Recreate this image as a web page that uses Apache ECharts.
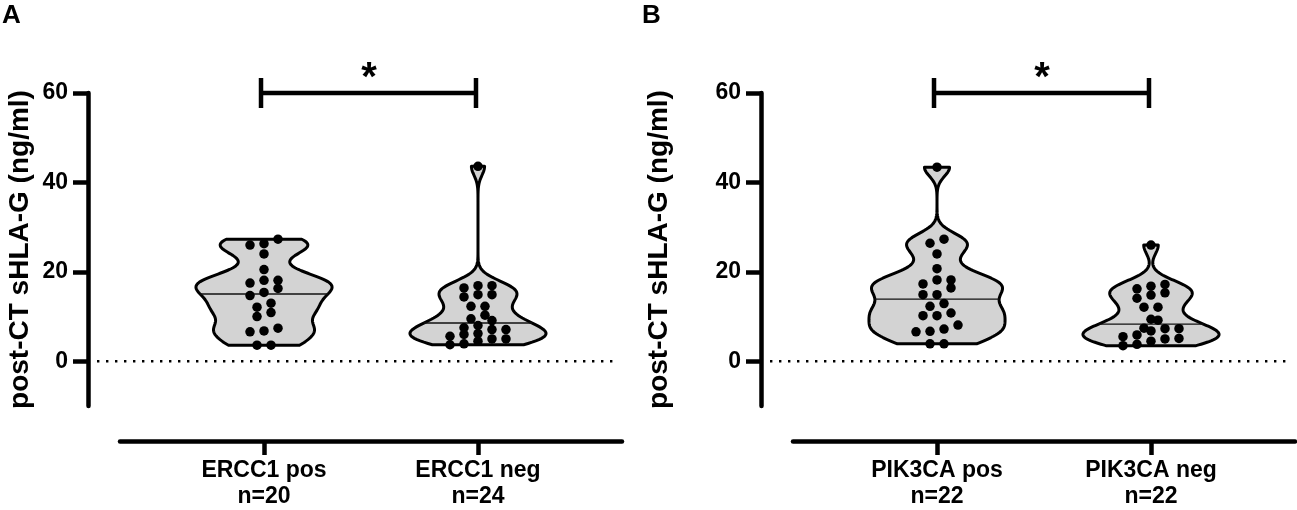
<!DOCTYPE html>
<html>
<head>
<meta charset="utf-8">
<script src="https://cdn.jsdelivr.net/npm/echarts@6/dist/echarts.min.js"></script>
<style>
  html, body { margin: 0; padding: 0; background: #fff; }
  #chart { width: 1297px; height: 510px; }
</style>
</head>
<body>
<div id="chart"></div>
<script>
// values (ng/ml)
const ercc1Pos = [27.3, 26.3, 26.0, 24.0, 20.5, 18.1, 18.1, 17.5, 16.3, 15.4, 14.7, 13.0, 12.1, 10.9, 10.0, 7.4, 6.8, 6.6, 3.6, 3.6];
const ercc1Neg = [43.6, 16.9, 16.4, 16.9, 14.9, 14.4, 14.9, 12.3, 12.3, 10.3, 9.1, 9.5, 7.1, 8.0, 7.1, 7.5, 5.0, 6.2, 5.0, 5.6, 6.0, 3.9, 4.5, 3.7];
const pik3caPos = [43.4, 27.3, 26.4, 24.0, 20.7, 18.2, 17.3, 18.2, 16.4, 14.9, 14.9, 12.9, 12.3, 10.2, 10.8, 10.2, 8.1, 7.2, 6.6, 6.7, 3.9, 3.9];
const pik3caNeg = [26.0, 16.8, 16.2, 17.2, 15.3, 14.1, 14.8, 12.1, 12.1, 9.4, 9.2, 7.3, 6.8, 7.3, 7.4, 5.9, 5.1, 4.5, 5.0, 5.5, 3.8, 3.5];

const labelsA = ['ERCC1 pos', 'ERCC1 neg'];
const labelsB = ['PIK3CA pos', 'PIK3CA neg'];
const yTicks = [0, 20, 40, 60];
const yName = 'post-CT sHLA-G (ng/ml)';
const signif = '*';

const FONT = 'Liberation Sans, Arial, sans-serif';
const X_MIN = -0.673, X_MAX = 1.673;
const BW = 2.0;        // kde smoothing
const HALF_W = 0.318;  // widest half-width of a violin, x units
const BIN = 1.8;       // dot row height, y units
const STEP = 0.0654;   // dot column spacing, x units

function violin(vals) {
  const lo = Math.min(...vals), hi = Math.max(...vals);
  const pts = [];
  let top = 0;
  for (let k = 0; k <= 140; k++) {
    const y = lo + (hi - lo) * k / 140;
    let d = 0;
    vals.forEach(v => { const z = (y - v) / BW; d += Math.exp(-0.5 * z * z); });
    pts.push([y, d]);
    top = Math.max(top, d);
  }
  pts.forEach(p => { p[1] = p[1] / top * HALF_W; });
  const s = [...vals].sort((a, b) => a - b);
  const m = s.length % 2 ? s[(s.length - 1) / 2] : (s[s.length / 2 - 1] + s[s.length / 2]) / 2;
  return { pts, median: m };
}

function widthAt(shape, y) {
  const p = shape.pts;
  for (let i = 1; i < p.length; i++) {
    if (p[i][0] >= y) {
      const t = (y - p[i - 1][0]) / (p[i][0] - p[i - 1][0]);
      return p[i - 1][1] + t * (p[i][1] - p[i - 1][1]);
    }
  }
  return p[p.length - 1][1];
}

function swarm(vals, cat) {
  const s = [...vals].sort((a, b) => a - b);
  const rows = [];
  let row = [];
  s.forEach(v => {
    if (row.length && v - row[0] > BIN) { rows.push(row); row = []; }
    row.push(v);
  });
  if (row.length) rows.push(row);
  const out = [];
  rows.forEach(r => r.forEach((v, j) => out.push([cat + (j - (r.length - 1) / 2) * STEP, v])));
  return out;
}

function panelSeries(idx, groups) {
  const shapes = groups.map(violin);
  const ax = { xAxisIndex: idx, yAxisIndex: idx };
  return [
    Object.assign({
      type: 'custom', silent: true, clip: false, z: 1,
      data: [[0]],
      renderItem: (params, api) => {
        const a = api.coord([X_MIN, 0]);
        const b = api.coord([X_MAX, 0]);
        return {
          type: 'line',
          shape: { x1: a[0] - 23, y1: a[1], x2: b[0] - 4, y2: b[1] },
          style: { stroke: '#000', lineWidth: 2.6, lineDash: [2.4, 6.6] }
        };
      }
    }, ax),
    Object.assign({
      type: 'custom', silent: true, clip: false, z: 2,
      data: shapes.map((s, i) => [i, s.median]),
      renderItem: (params, api) => {
        const sh = shapes[params.dataIndex];
        const cx = api.value(0);
        const left = sh.pts.map(p => api.coord([cx - p[1], p[0]]));
        const right = sh.pts.slice().reverse().map(p => api.coord([cx + p[1], p[0]]));
        const mw = widthAt(sh, sh.median);
        const m1 = api.coord([cx - mw, sh.median]);
        const m2 = api.coord([cx + mw, sh.median]);
        return {
          type: 'group',
          children: [
            { type: 'polygon', shape: { points: left.concat(right) },
              style: { fill: '#d3d3d3', stroke: '#000', lineWidth: 3, lineJoin: 'round' } },
            { type: 'line', shape: { x1: m1[0], y1: m1[1], x2: m2[0], y2: m2[1] },
              style: { stroke: '#111', lineWidth: 1.4 } }
          ]
        };
      }
    }, ax),
    Object.assign({
      type: 'scatter', silent: true, z: 3,
      symbol: 'circle', symbolSize: 9.5,
      itemStyle: { color: '#000', opacity: 1 },
      data: swarm(groups[0], 0).concat(swarm(groups[1], 1))
    }, ax),
    Object.assign({
      type: 'custom', silent: true, clip: false, z: 4,
      data: [[0, 1, yTicks[yTicks.length - 1]]],
      renderItem: (params, api) => {
        const a = api.coord([api.value(0), api.value(2)]);
        const b = api.coord([api.value(1), api.value(2)]);
        const st = { stroke: '#000', lineWidth: 4.5 };
        return {
          type: 'group',
          children: [
            { type: 'line', shape: { x1: a[0] - 3, y1: a[1], x2: b[0] - 2, y2: b[1] }, style: st },
            { type: 'line', shape: { x1: a[0] - 3, y1: a[1] - 15, x2: a[0] - 3, y2: a[1] + 15 }, style: st },
            { type: 'line', shape: { x1: b[0] - 2, y1: b[1] - 15, x2: b[0] - 2, y2: b[1] + 15 }, style: st },
            { type: 'text', x: (a[0] + b[0]) / 2 - 2, y: a[1] - 14,
              style: { text: signif, fill: '#000', font: 'bold 40px ' + FONT, align: 'center', verticalAlign: 'middle' } }
          ]
        };
      }
    }, ax)
  ];
}

function xAxis(idx, labels, groups) {
  return {
    type: 'value', gridIndex: idx, min: X_MIN, max: X_MAX, offset: 35,
    splitLine: { show: false },
    axisLine: { onZero: false, lineStyle: { color: '#000', width: 4.5 } },
    axisTick: { customValues: [0, 1], length: 14, lineStyle: { color: '#000', width: 4.5 } },
    axisLabel: {
      customValues: [0, 1], margin: 17, color: '#000',
      fontFamily: FONT, fontWeight: 'bold', fontSize: 23, lineHeight: 26,
      formatter: v => { const i = Math.round(v); return labels[i] + '\nn=' + groups[i].length; }
    }
  };
}

function yAxis(idx, gap) {
  return {
    type: 'value', gridIndex: idx, min: -10, max: 60, offset: 32,
    name: yName, nameLocation: 'middle', nameGap: gap,
    nameTextStyle: { fontFamily: FONT, fontWeight: 'bold', fontSize: 28, color: '#000' },
    splitLine: { show: false },
    axisLine: { show: true, onZero: false, lineStyle: { color: '#000', width: 4.5 } },
    axisTick: { show: true, customValues: yTicks, length: 15, lineStyle: { color: '#000', width: 4.5 } },
    axisLabel: { customValues: yTicks, margin: 20, color: '#000', fontFamily: FONT, fontWeight: 'bold', fontSize: 23 }
  };
}

const chart = echarts.init(document.getElementById('chart'), null, { renderer: 'canvas' });
chart.setOption({
  animation: false,
  backgroundColor: '#fff',
  title: [
    { text: 'A', left: 2, top: 3, padding: 0, textStyle: { fontFamily: FONT, fontWeight: 'bold', fontSize: 26, color: '#000' } },
    { text: 'B', left: 642, top: 3, padding: 0, textStyle: { fontFamily: FONT, fontWeight: 'bold', fontSize: 26, color: '#000' } }
  ],
  grid: [
    { left: 120, width: 502, top: 93, height: 314 },
    { left: 793, width: 502, top: 93, height: 314 }
  ],
  xAxis: [xAxis(0, labelsA, [ercc1Pos, ercc1Neg]), xAxis(1, labelsB, [pik3caPos, pik3caNeg])],
  yAxis: [yAxis(0, 54), yAxis(1, 88)],
  series: panelSeries(0, [ercc1Pos, ercc1Neg]).concat(panelSeries(1, [pik3caPos, pik3caNeg]))
});
</script>
</body>
</html>
